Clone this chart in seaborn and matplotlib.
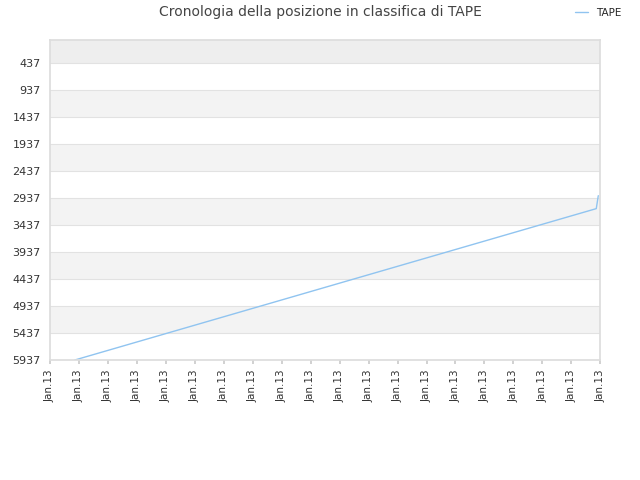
import matplotlib
matplotlib.use("Agg")
import matplotlib.pyplot as plt
import seaborn as sns
import pandas as pd

# rank history (x in tick-index units, all ticks labelled Jan.13)
x_pos = [0.86, 18.86, 18.93]
rank = [5937, 3130, 2890]
tick_vals = [437, 937, 1437, 1937, 2437, 2937, 3437, 3937, 4437, 4937, 5437, 5937]
tick_labels = ["Jan.13"] * 20

sns.set_theme(style="white")
plt.rcParams['font.family'] = ['DejaVu Sans']

fig = plt.figure(figsize=(6.4, 4.8), dpi=100)
ax = fig.add_axes([0.078, 0.25, 0.86, 0.667])

top = 0
# alternating horizontal bands
edges = [top] + tick_vals
for i in range(len(edges) - 1):
    if i % 2 == 0:
        shade = "#eeeeee" if i == 0 else "#f3f3f3"
        ax.axhspan(edges[i], edges[i + 1], color=shade, zorder=0, lw=0)
for v in tick_vals:
    ax.axhline(v, color="#e2e2e2", lw=0.8, zorder=1)

df = pd.DataFrame({"x": x_pos, "rank": rank})
sns.lineplot(data=df, x="x", y="rank", ax=ax, color="#90c4f0", lw=1, label="TAPE")

ax.set_ylim(5937, top)
ax.set_xlim(0, 19)
ax.set_yticks(tick_vals)
ax.set_yticklabels([str(v) for v in tick_vals], fontsize=8, color="#333333")
ax.set_xticks(range(20))
ax.set_xticklabels(tick_labels, rotation=90, fontsize=7.5, color="#333333")
ax.set_xlabel("")
ax.set_ylabel("")
ax.tick_params(length=3, color="#cccccc", left=False, bottom=True)
for s in ax.spines.values():
    s.set_color("#dddddd")

leg = ax.legend(loc="upper right", bbox_to_anchor=(1.055, 1.13), frameon=False,
                fontsize=7.5, handlelength=1.2)
for h in leg.get_lines():
    h.set_color("#90c4f0")
fig.suptitle("Cronologia della posizione in classifica di TAPE", y=0.99,
             fontsize=10, color="#444444")
fig.savefig("out.png", dpi=100)
